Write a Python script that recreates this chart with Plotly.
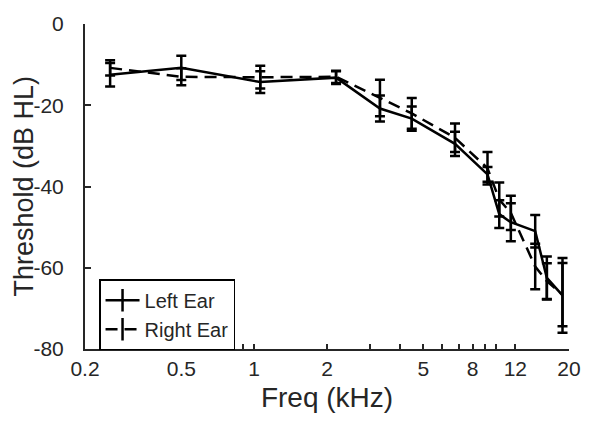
import math
import plotly.graph_objects as go

# Audiometric thresholds, mean ± error per frequency
freq_khz = [0.254, 0.50, 1.06, 2.18, 3.31, 4.48, 6.76, 9.21, 10.3, 11.5, 14.5, 16.2, 18.8]

left_mean = [-12.5, -10.8, -14.3, -13.2, -20.8, -23.3, -29.5, -37.0, -46.8, -48.8, -51.0, -62.5, -66.8]
left_err = [2.9, 3.0, 2.7, 1.6, 3.2, 3.0, 3.0, 1.8, 3.4, 4.7, 4.0, 5.3, 9.2]

right_mean = [-10.8, -13.0, -13.1, -13.0, -18.2, -22.0, -28.0, -35.5, -43.2, -46.5, -59.7, -63.3, -66.6]
right_err = [1.9, 2.1, 2.8, 1.5, 4.5, 3.8, 3.5, 4.0, 4.2, 4.2, 5.6, 4.4, 7.8]

x_tickvals = [0.2, 0.3, 0.4, 0.5, 0.6, 0.7, 0.8, 0.9, 1, 2, 3, 4, 5, 6, 7, 8, 9, 10, 12, 20]
x_labels = {0.2: "0.2", 0.5: "0.5", 1: "1", 2: "2", 5: "5", 8: "8", 12: "12", 20: "20"}
x_ticktext = [x_labels.get(v, "") for v in x_tickvals]
y_tickvals = [-80, -60, -40, -20, 0]
y_ticktext = ["-80", "-60", "-40", "-20", "0"]

FONT = "Liberation Sans, Arial, sans-serif"
INK = "#262626"
LW = 2.5
DASH = "12px,7px"

fig = go.Figure()

series = [
    ("Left Ear", left_mean, left_err, "solid"),
    ("Right Ear", right_mean, right_err, DASH),
]

for name, mean, err, dash in series:
    fig.add_trace(go.Scatter(
        x=freq_khz, y=mean, mode="lines", name=name, showlegend=False,
        line=dict(color="black", width=LW, dash=dash),
        error_y=dict(type="data", array=err, visible=True,
                     color="black", thickness=LW, width=5),
    ))
    # legend entry with an errorbar-like glyph
    fig.add_trace(go.Scatter(
        x=[None], y=[None], mode="lines+markers", name=name,
        line=dict(color="black", width=LW, dash=dash),
        marker=dict(symbol="line-ns", size=16,
                    line=dict(color="black", width=LW)),
    ))

fig.update_layout(
    width=600, height=421,
    margin=dict(l=85, r=31, t=18, b=72),
    paper_bgcolor="white", plot_bgcolor="white",
    font=dict(family=FONT, color=INK),
    showlegend=True,
    legend=dict(
        x=0.029, y=0.2145, xanchor="left", yanchor="top",
        bgcolor="white", bordercolor="black", borderwidth=1.5,
        font=dict(size=20, color=INK, family=FONT),
        tracegroupgap=0, itemwidth=34,
    ),
    annotations=[dict(
        text="Threshold (dB HL)", textangle=-90,
        xref="paper", yref="paper", x=-0.128, y=0.5,
        xanchor="center", yanchor="middle", showarrow=False,
        font=dict(size=27, color=INK, family=FONT),
    )],
)

fig.update_xaxes(
    type="log", range=[math.log10(0.2), math.log10(20)],
    tickvals=x_tickvals, ticktext=x_ticktext,
    ticks="inside", ticklen=5, tickwidth=1.5, tickcolor=INK,
    showline=True, linecolor=INK, linewidth=2,
    showgrid=False, zeroline=False,
    tickfont=dict(size=21, color=INK),
    title=dict(text="Freq (kHz)", font=dict(size=28, color=INK), standoff=8),
)

fig.update_yaxes(
    range=[-80, 0], tickvals=y_tickvals, ticktext=y_ticktext,
    ticks="inside", ticklen=6, tickwidth=1.5, tickcolor=INK,
    showline=True, linecolor=INK, linewidth=2,
    showgrid=False, zeroline=False,
    tickfont=dict(size=21, color=INK),
    ticklabelstandoff=15,
)

fig.write_html("out.html")
